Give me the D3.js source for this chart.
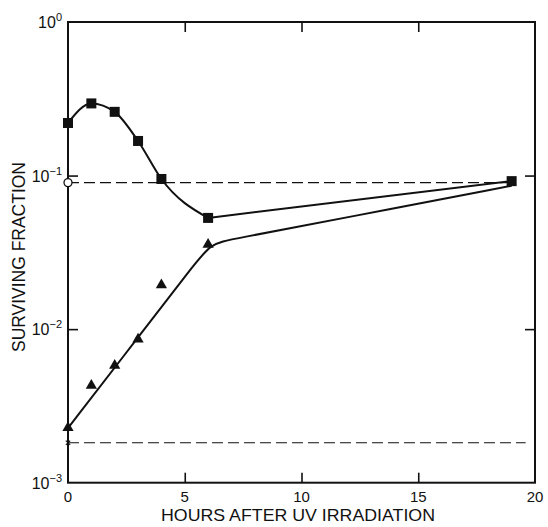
<!DOCTYPE html>
<html>
<head>
<meta charset="utf-8">
<script src="https://cdn.jsdelivr.net/npm/d3@7"></script>
<style>
  html, body { margin: 0; padding: 0; background: #fff; }
  svg { display: block; font-family: "Liberation Sans", Arial, sans-serif; }
</style>
</head>
<body>
<svg id="chart" width="548" height="527"></svg>
<script>
// Survival after UV irradiation, log scale
const hours = [0, 1, 2, 3, 4, 6, 19];
const squareValues = [0.22, 0.295, 0.26, 0.168, 0.095, 0.053, 0.092];
const triangleHours = [0, 1, 2, 3, 4, 6];
const triangleValues = [0.00228, 0.0043, 0.0058, 0.0086, 0.0194, 0.0356];

// fitted curve for the triangle series: two straight runs joined by a rounded bend
const fitHours = [0, 3, 5.3, 6.11, 7.0, 12, 19];
const fitValues = [0.00227, 0.00883, 0.0251, 0.0361, 0.0384, 0.0536, 0.0858];

// reference levels at time zero
const controlOpen = 0.09;
const controlCross = 0.00182;

const xTicks = [0, 5, 10, 15, 20];
const yTicks = [1, 0.1, 0.01, 0.001];
const yTickExponents = ["0", "-1", "-2", "-3"];

const svg = d3.select("#chart");
const x = d3.scaleLinear().domain([0, 20]).range([68, 535]);
const y = d3.scaleLog().domain([0.001, 1]).range([482.7, 22]);

const ink = "#111";

// frame
svg.append("rect")
  .attr("x", x(0)).attr("y", y(1))
  .attr("width", x(20) - x(0)).attr("height", y(0.001) - y(1))
  .attr("fill", "none").attr("stroke", ink).attr("stroke-width", 2);

// inward ticks
const tickLen = 10;
const bottomAxis = svg.append("g").attr("transform", `translate(0,${y(0.001)})`)
  .call(d3.axisBottom(x).tickValues([5, 10, 15]).tickSize(-tickLen).tickFormat(""));
const topAxis = svg.append("g").attr("transform", `translate(0,${y(1)})`)
  .call(d3.axisTop(x).tickValues([5, 10, 15]).tickSize(-tickLen).tickFormat(""));
const leftAxis = svg.append("g").attr("transform", `translate(${x(0)},0)`)
  .call(d3.axisLeft(y).tickValues([0.1, 0.01]).tickSize(-tickLen).tickFormat(""));
const rightAxis = svg.append("g").attr("transform", `translate(${x(20)},0)`)
  .call(d3.axisRight(y).tickValues([0.1, 0.01]).tickSize(-tickLen).tickFormat(""));
[bottomAxis, topAxis, leftAxis, rightAxis].forEach(g => {
  g.select(".domain").remove();
  g.selectAll(".tick line").attr("stroke", ink).attr("stroke-width", 1.6);
});

// x tick labels
svg.append("g").selectAll("text").data(xTicks).join("text")
  .attr("x", d => x(d)).attr("y", y(0.001) + 19)
  .attr("text-anchor", "middle").attr("font-size", 15).attr("fill", ink)
  .text(d => d);

// y tick labels: 10 with superscript exponent
const yl = svg.append("g").selectAll("text").data(yTicks).join("text")
  .attr("x", 62).attr("y", d => y(d) + 6)
  .attr("text-anchor", "end").attr("font-size", 16).attr("fill", ink);
yl.append("tspan").text("10");
yl.append("tspan").attr("dy", -7).attr("font-size", 11)
  .text((d, i) => yTickExponents[i].replace("-", "\u2212"));

// axis titles
svg.append("text")
  .attr("x", 298).attr("y", 521)
  .attr("text-anchor", "middle").attr("font-size", 16.5).attr("fill", ink)
  .attr("textLength", 274).attr("lengthAdjust", "spacingAndGlyphs")
  .text("HOURS AFTER UV IRRADIATION");
svg.append("text")
  .attr("transform", `translate(24.5,257) rotate(-90)`)
  .attr("text-anchor", "middle").attr("font-size", 17.5).attr("fill", ink)
  .attr("textLength", 190).attr("lengthAdjust", "spacingAndGlyphs")
  .text("SURVIVING FRACTION");

// dashed reference levels
svg.append("line")
  .attr("x1", x(0)).attr("x2", x(19)).attr("y1", y(controlOpen)).attr("y2", y(controlOpen))
  .attr("stroke", ink).attr("stroke-width", 1.4).attr("stroke-dasharray", "11,5");
svg.append("line")
  .attr("x1", x(0)).attr("x2", x(19.6)).attr("y1", y(controlCross)).attr("y2", y(controlCross))
  .attr("stroke", ink).attr("stroke-width", 1.2).attr("stroke-dasharray", "11,5");

// square series: smooth through early points, straight to the last one
const sq = hours.map((h, i) => [h, squareValues[i]]);
const lineSmooth = d3.line().x(d => x(d[0])).y(d => y(d[1])).curve(d3.curveMonotoneX);
const lineStraight = d3.line().x(d => x(d[0])).y(d => y(d[1]));
const lineBasis = d3.line().x(d => x(d[0])).y(d => y(d[1])).curve(d3.curveBasis);
svg.append("path").attr("d", lineSmooth(sq.slice(0, 6)))
  .attr("fill", "none").attr("stroke", ink).attr("stroke-width", 2);
svg.append("path").attr("d", lineStraight(sq.slice(5)))
  .attr("fill", "none").attr("stroke", ink).attr("stroke-width", 2);

// triangle fit curve
const fit = fitHours.map((h, i) => [h, fitValues[i]]);
svg.append("path").attr("d", lineBasis(fit))
  .attr("fill", "none").attr("stroke", ink).attr("stroke-width", 2);

// markers
const sqSize = 10;
svg.append("g").selectAll("rect").data(sq).join("rect")
  .attr("x", d => x(d[0]) - sqSize / 2).attr("y", d => y(d[1]) - sqSize / 2)
  .attr("width", sqSize).attr("height", sqSize).attr("fill", ink);

const tri = triangleHours.map((h, i) => [h, triangleValues[i]]);
svg.append("g").selectAll("path").data(tri).join("path")
  .attr("d", d3.symbol().type(d3.symbolTriangle).size(55))
  .attr("transform", d => `translate(${x(d[0])},${y(d[1])})`)
  .attr("fill", ink);

svg.append("circle")
  .attr("cx", x(0)).attr("cy", y(controlOpen)).attr("r", 4)
  .attr("fill", "#fff").attr("stroke", ink).attr("stroke-width", 1.3);

svg.append("path")
  .attr("d", d3.symbol().type(d3.symbolX).size(14))
  .attr("transform", `translate(${x(0)},${y(controlCross)})`)
  .attr("fill", "none").attr("stroke", ink).attr("stroke-width", 1.1);
</script>
</body>
</html>
